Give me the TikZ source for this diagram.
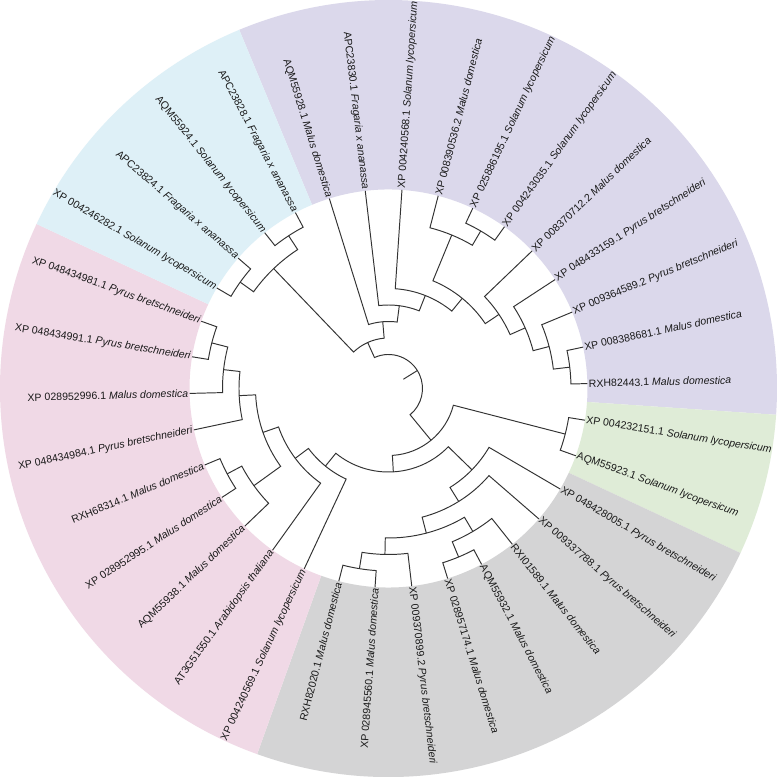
\documentclass[tikz,border=0pt]{standalone}
\usepackage{fontspec}
\setmainfont{Liberation Sans}
\usepackage{tikz}
\definecolor{cladepurple}{RGB}{219,216,235}
\definecolor{cladeblue}{RGB}{222,240,247}
\definecolor{cladepink}{RGB}{240,217,230}
\definecolor{cladegreen}{RGB}{223,236,215}
\definecolor{cladegray}{RGB}{212,212,213}

\begin{document}
\begin{tikzpicture}[
    branch/.style={line width=0.55pt, draw=black!80},
    tipr/.style={anchor=west, inner sep=0.8pt, outer sep=0pt,
      font=\fontsize{6}{7}\selectfont, text=black!90},
    tipl/.style={tipr, anchor=east}
  ]
  \fill[white] (-7.77,-7.77) rectangle (7.77,7.77);
  \useasboundingbox (-7.77,-7.77) rectangle (7.77,7.77);

  %% ===== clade rings =====
  \fill[cladepurple] (112.594:3.98) arc[start angle=112.594, end angle=-3.877, radius=3.98]
    -- (-3.877:7.77) arc[start angle=-3.877, end angle=112.594, radius=7.77] -- cycle;
  \fill[cladegreen] (-3.877:3.98) arc[start angle=-3.877, end angle=-25.053, radius=3.98]
    -- (-25.053:7.77) arc[start angle=-25.053, end angle=-3.877, radius=7.77] -- cycle;
  \fill[cladegray] (-25.053:3.98) arc[start angle=-25.053, end angle=-109.759, radius=3.98]
    -- (-109.759:7.77) arc[start angle=-109.759, end angle=-25.053, radius=7.77] -- cycle;
  \fill[cladepink] (-109.759:3.98) arc[start angle=-109.759, end angle=-205.053, radius=3.98]
    -- (-205.053:7.77) arc[start angle=-205.053, end angle=-109.759, radius=7.77] -- cycle;
  \fill[cladeblue] (154.947:3.98) arc[start angle=154.947, end angle=112.594, radius=3.98]
    -- (112.594:7.77) arc[start angle=112.594, end angle=154.947, radius=7.77] -- cycle;

  %% ===== tips =====
  \node[tipl, rotate=-72.70] (l1) at (107.300:3.98) {AQM55928.1 \textit{Malus domestica}};
  \node[tipl, rotate=-83.29] (l2) at (96.712:3.98) {APC23830.1 \textit{Fragaria x ananassa}};
  \node[tipr, rotate=86.12] (l3) at (86.124:3.98) {XP 004240568.1 \textit{Solanum lycopersicum}};
  \node[tipr, rotate=75.54] (l4) at (75.535:3.98) {XP 008390536.2 \textit{Malus domestica}};
  \node[tipr, rotate=64.95] (l5) at (64.947:3.98) {XP 025886195.1 \textit{Solanum lycopersicum}};
  \node[tipr, rotate=54.36] (l6) at (54.359:3.98) {XP 004243035.1 \textit{Solanum lycopersicum}};
  \node[tipr, rotate=43.77] (l7) at (43.770:3.98) {XP 008370712.2 \textit{Malus domestica}};
  \node[tipr, rotate=33.18] (l8) at (33.182:3.98) {XP 048433159.1 \textit{Pyrus bretschneideri}};
  \node[tipr, rotate=22.59] (l9) at (22.594:3.98) {XP 009364589.2 \textit{Pyrus bretschneideri}};
  \node[tipr, rotate=12.01] (l10) at (12.006:3.98) {XP 008388681.1 \textit{Malus domestica}};
  \node[tipr, rotate=1.42] (l11) at (1.418:3.98) {RXH82443.1 \textit{Malus domestica}};
  \node[tipr, rotate=-9.17] (l12) at (-9.171:3.98) {XP 004232151.1 \textit{Solanum lycopersicum}};
  \node[tipr, rotate=-19.76] (l13) at (-19.759:3.98) {AQM55923.1 \textit{Solanum lycopersicum}};
  \node[tipr, rotate=-30.35] (l14) at (-30.347:3.98) {XP 048428005.1 \textit{Pyrus bretschneideri}};
  \node[tipr, rotate=-40.94] (l15) at (-40.935:3.98) {XP 009337788.1 \textit{Pyrus bretschneideri}};
  \node[tipr, rotate=-51.52] (l16) at (-51.524:3.98) {RXI01589.1 \textit{Malus domestica}};
  \node[tipr, rotate=-62.11] (l17) at (-62.112:3.98) {AQM55932.1 \textit{Malus domestica}};
  \node[tipr, rotate=-72.70] (l18) at (-72.700:3.98) {XP 028957174.1 \textit{Malus domestica}};
  \node[tipr, rotate=-83.29] (l19) at (-83.288:3.98) {XP 009370899.2 \textit{Pyrus bretschneideri}};
  \node[tipl, rotate=86.12] (l20) at (-93.877:3.98) {XP 028945560.1 \textit{Malus domestica}};
  \node[tipl, rotate=75.54] (l21) at (-104.465:3.98) {RXH82020.1 \textit{Malus domestica}};
  \node[tipl, rotate=64.95] (l22) at (-115.053:3.98) {XP 004240569.1 \textit{Solanum lycopersicum}};
  \node[tipl, rotate=54.36] (l23) at (-125.641:3.98) {AT3G51550.1 \textit{Arabidopsis thaliana}};
  \node[tipl, rotate=43.77] (l24) at (-136.230:3.98) {AQM55938.1 \textit{Malus domestica}};
  \node[tipl, rotate=33.18] (l25) at (-146.818:3.98) {XP 028952995.1 \textit{Malus domestica}};
  \node[tipl, rotate=22.59] (l26) at (-157.406:3.98) {RXH68314.1 \textit{Malus domestica}};
  \node[tipl, rotate=12.01] (l27) at (-167.994:3.98) {XP 048434984.1 \textit{Pyrus bretschneideri}};
  \node[tipl, rotate=1.42] (l28) at (-178.583:3.98) {XP 028952996.1 \textit{Malus domestica}};
  \node[tipl, rotate=-9.17] (l29) at (-189.171:3.98) {XP 048434991.1 \textit{Pyrus bretschneideri}};
  \node[tipl, rotate=-19.76] (l30) at (-199.759:3.98) {XP 048434981.1 \textit{Pyrus bretschneideri}};
  \node[tipl, rotate=-30.35] (l31) at (149.653:3.98) {XP 004246282.1 \textit{Solanum lycopersicum}};
  \node[tipl, rotate=-40.94] (l32) at (139.065:3.98) {APC23824.1 \textit{Fragaria x ananassa}};
  \node[tipl, rotate=-51.52] (l33) at (128.476:3.98) {AQM55924.1 \textit{Solanum lycopersicum}};
  \node[tipl, rotate=-62.11] (l34) at (117.888:3.98) {APC23828.1 \textit{Fragaria x ananassa}};

  %% ===== inner nodes =====
  \coordinate (n56) at (59.653:3.65);
  \coordinate (nV) at (67.594:3.32);
  \coordinate (nR) at (6.712:3.65);
  \coordinate (nS) at (14.653:3.32);
  \coordinate (nT) at (23.917:2.99);
  \coordinate (nU) at (33.844:2.66);
  \coordinate (nW) at (50.719:2.33);
  \coordinate (nZ) at (68.421:2.00);
  \coordinate (nY) at (82.566:1.67);
  \coordinate (nX) at (94.933:1.34);
  \coordinate (n3132) at (144.359:3.65);
  \coordinate (n3334) at (123.182:3.65);
  \coordinate (nBl) at (133.771:3.32);
  \coordinate (nA) at (114.352:1.01);
  \coordinate (nG) at (-14.465:3.65);
  \coordinate (nJ) at (-67.406:3.65);
  \coordinate (nL) at (-59.465:3.32);
  \coordinate (nI) at (-99.171:3.65);
  \coordinate (nK) at (-91.229:3.32);
  \coordinate (nM) at (-75.347:2.99);
  \coordinate (nN) at (-58.141:2.66);
  \coordinate (nP) at (-44.244:2.33);
  \coordinate (n2526) at (-152.112:3.65);
  \coordinate (nE) at (-144.171:3.32);
  \coordinate (n2930) at (-194.465:3.65);
  \coordinate (nC) at (-186.524:3.32);
  \coordinate (nD) at (-177.259:2.99);
  \coordinate (nF) at (-160.715:2.66);
  \coordinate (nH) at (-143.178:2.33);
  \coordinate (nO) at (-129.116:2.00);
  \coordinate (nQ) at (-86.680:1.67);
  \coordinate (nB) at (-50.573:1.34);
  \coordinate (root) at (31.890:0.68);
  \coordinate (rootstem) at (31.890:0.35);

  %% ===== branches =====
  \draw[branch] (l5) -- (64.947:3.65) arc[start angle=64.947, end angle=54.359, radius=3.65] -- (l6);
  \draw[branch] (l4) -- (75.535:3.32) arc[start angle=75.535, end angle=59.653, radius=3.32] -- (n56);
  \draw[branch] (l10) -- (12.006:3.65) arc[start angle=12.006, end angle=1.418, radius=3.65] -- (l11);
  \draw[branch] (l9) -- (22.594:3.32) arc[start angle=22.594, end angle=6.712, radius=3.32] -- (nR);
  \draw[branch] (l8) -- (33.182:2.99) arc[start angle=33.182, end angle=14.653, radius=2.99] -- (nS);
  \draw[branch] (l7) -- (43.770:2.66) arc[start angle=43.770, end angle=23.917, radius=2.66] -- (nT);
  \draw[branch] (nV) -- (67.594:2.33) arc[start angle=67.594, end angle=33.844, radius=2.33] -- (nU);
  \draw[branch] (l3) -- (86.124:2.00) arc[start angle=86.124, end angle=50.719, radius=2.00] -- (nW);
  \draw[branch] (l2) -- (96.712:1.67) arc[start angle=96.712, end angle=68.421, radius=1.67] -- (nZ);
  \draw[branch] (l1) -- (107.300:1.34) arc[start angle=107.300, end angle=82.566, radius=1.34] -- (nY);

  \draw[branch] (l31) -- (149.653:3.65) arc[start angle=149.653, end angle=139.065, radius=3.65] -- (l32);
  \draw[branch] (l33) -- (128.476:3.65) arc[start angle=128.476, end angle=117.888, radius=3.65] -- (l34);
  \draw[branch] (n3132) -- (144.359:3.32) arc[start angle=144.359, end angle=123.182, radius=3.32] -- (n3334);
  \draw[branch] (nBl) -- (133.771:1.01) arc[start angle=133.771, end angle=94.933, radius=1.01] -- (nX);

  \draw[branch] (l12) -- (-9.171:3.65) arc[start angle=-9.171, end angle=-19.759, radius=3.65] -- (l13);

  \draw[branch] (l17) -- (-62.112:3.65) arc[start angle=-62.112, end angle=-72.700, radius=3.65] -- (l18);
  \draw[branch] (l16) -- (-51.524:3.32) arc[start angle=-51.524, end angle=-67.406, radius=3.32] -- (nJ);
  \draw[branch] (l20) -- (-93.877:3.65) arc[start angle=-93.877, end angle=-104.465, radius=3.65] -- (l21);
  \draw[branch] (l19) -- (-83.288:3.32) arc[start angle=-83.288, end angle=-99.171, radius=3.32] -- (nI);
  \draw[branch] (nL) -- (-59.465:2.99) arc[start angle=-59.465, end angle=-91.229, radius=2.99] -- (nK);
  \draw[branch] (l15) -- (-40.935:2.66) arc[start angle=-40.935, end angle=-75.347, radius=2.66] -- (nM);
  \draw[branch] (l14) -- (-30.347:2.33) arc[start angle=-30.347, end angle=-58.141, radius=2.33] -- (nN);

  \draw[branch] (l25) -- (-146.818:3.65) arc[start angle=-146.818, end angle=-157.406, radius=3.65] -- (l26);
  \draw[branch] (l24) -- (-136.230:3.32) arc[start angle=-136.230, end angle=-152.112, radius=3.32] -- (n2526);
  \draw[branch] (l29) -- (-189.171:3.65) arc[start angle=-189.171, end angle=-199.759, radius=3.65] -- (l30);
  \draw[branch] (l28) -- (-178.583:3.32) arc[start angle=-178.583, end angle=-194.465, radius=3.32] -- (n2930);
  \draw[branch] (l27) -- (-167.994:2.99) arc[start angle=-167.994, end angle=-186.524, radius=2.99] -- (nC);
  \draw[branch] (nE) -- (-144.171:2.66) arc[start angle=-144.171, end angle=-177.259, radius=2.66] -- (nD);
  \draw[branch] (l23) -- (-125.641:2.33) arc[start angle=-125.641, end angle=-160.715, radius=2.33] -- (nF);
  \draw[branch] (l22) -- (-115.053:2.00) arc[start angle=-115.053, end angle=-143.178, radius=2.00] -- (nH);
  \draw[branch] (nP) -- (-44.244:1.67) arc[start angle=-44.244, end angle=-129.116, radius=1.67] -- (nO);
  \draw[branch] (nG) -- (-14.465:1.34) arc[start angle=-14.465, end angle=-86.680, radius=1.34] -- (nQ);

  %% root
  \draw[branch] (nA) -- (114.352:0.68) arc[start angle=114.352, end angle=-50.573, radius=0.68] -- (nB);
  \draw[branch] (rootstem) -- (root);
\end{tikzpicture}
\end{document}
